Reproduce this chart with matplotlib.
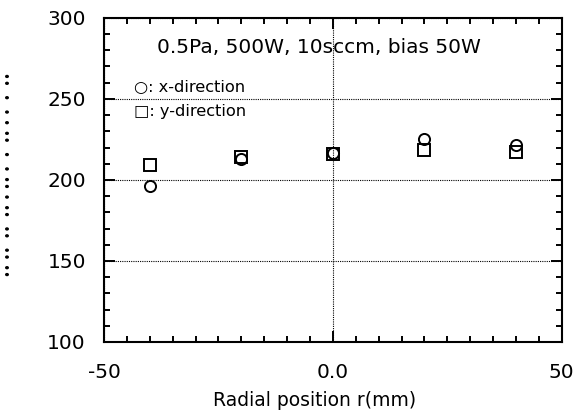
import matplotlib
matplotlib.use("Agg")
import matplotlib.pyplot as plt
from matplotlib.ticker import MultipleLocator

# radial positions (mm) and measured values
r_pos = [-40, -20, 0, 20, 40]
x_dir = [196, 213, 216.5, 225, 221.5]
y_dir = [209, 214, 216, 218.5, 217]

plt.rcParams['font.family'] = ['DejaVu Sans']

fig = plt.figure(figsize=(5.84, 4.16), dpi=100)
ax = fig.add_axes([0.178, 0.178, 0.784, 0.779])

ax.plot(r_pos, x_dir, 'o', mfc='none', mec='black', ms=8, mew=1.4, zorder=3)
ax.plot(r_pos, y_dir, 's', mfc='none', mec='black', ms=8, mew=1.4, zorder=3)

ax.set_xlim(-50, 50)
ax.set_ylim(100, 300)
ax.xaxis.set_major_locator(MultipleLocator(50))
ax.xaxis.set_minor_locator(MultipleLocator(5))
ax.yaxis.set_major_locator(MultipleLocator(50))
ax.yaxis.set_minor_locator(MultipleLocator(10))
ax.set_xticks([-50, 0, 50])
ax.set_xticklabels(['-50', '0.0', '50'])

ax.tick_params(which='both', direction='in', top=True, right=True, width=1.4, labelsize=14.5)
ax.tick_params(which='major', length=8)
ax.tick_params(which='minor', length=4)
ax.tick_params(axis='x', pad=15)
ax.tick_params(axis='y', pad=13)
for s in ax.spines.values():
    s.set_linewidth(1.5)

ax.grid(True, which='major', color='black', linestyle=(0, (1, 1)), linewidth=0.8)

ax.text(-3, 281.5, '0.5Pa, 500W, 10sccm, bias 50W', ha='center', va='center', fontsize=14.5)
ax.text(-43.5, 257, '○: x-direction', ha='left', va='center', fontsize=11.7)
ax.text(-43.5, 242.5, '□: y-direction', ha='left', va='center', fontsize=11.7)

fig.text(315 / 584, 1 - 401 / 416, 'Radial position r(mm)', ha='center', va='center', fontsize=13.5)
fig.text(0.017, 0.58, '•• ••  ••  •• • •• •  •  •• • •  •  ••', rotation=90,
         ha='center', va='center', fontsize=8.5)

fig.savefig('out.png', dpi=100)
